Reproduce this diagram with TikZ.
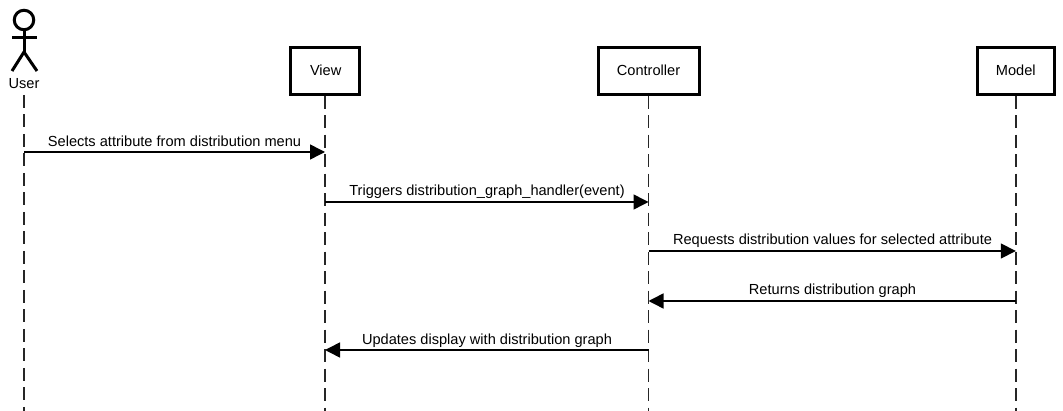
\documentclass[tikz,border=0pt]{standalone}
\usepackage{fontspec}
\setmainfont{Liberation Sans}
\usetikzlibrary{arrows.meta,calc}
\tikzset{
  x=1pt,y=-1pt,
  lbl/.style={font=\fontsize{14.6}{16}\selectfont,text=black,inner sep=0pt},
  box/.style={draw=black,line width=3pt,fill=white,minimum height=47pt,inner sep=0pt},
  lifeline/.style={draw=black!85,line width=1.5pt,dash pattern=on 13pt off 6.5pt},
  msg/.style={draw=black,line width=1.5pt,-{Triangle[length=15pt,width=15pt,fill=black]},shorten >=0pt},
  stick/.style={draw=black,line width=3pt},
  msglabel/.style={lbl,anchor=base}
}
\begin{document}
\begin{tikzpicture}
\useasboundingbox (0,0) rectangle (1063,411);
% actor
\node[circle,draw=black,line width=3pt,minimum size=19.5pt,inner sep=0pt] (head) at (24,20) {};
\coordinate (hip) at (24,52);
\coordinate (armL) at (12,38);
\coordinate (armR) at (37,38);
\coordinate (legL) at (12,71);
\coordinate (legR) at (37,71);
\draw[stick] (head.south) -- (hip);
\draw[stick] (armL) -- (armR);
\draw[stick] (legL) -- (hip) -- (legR);
\node[lbl] (user) at (24,84) {User};
% participants
\node[box,minimum width=69pt,lbl] (view) at (325,70.7) {\raisebox{-0.9pt}{\hspace{1.4pt}View}};
\node[box,minimum width=101pt,lbl] (controller) at (648.5,70.7) {\raisebox{-0.9pt}{Controller}};
\node[box,minimum width=77pt,lbl] (model) at (1015.8,70.7) {\raisebox{-0.9pt}{Model}};
% lifeline ends and anchors
\coordinate (userTop) at (24,95);
\coordinate (userEnd) at (24,411);
\coordinate (viewEnd) at (325,411);
\coordinate (controllerEnd) at (648.5,411);
\coordinate (modelEnd) at (1015.8,411);
\draw[lifeline] (userTop) -- (userEnd);
\draw[lifeline] (view.south) -- (viewEnd);
\draw[lifeline] (controller.south) -- (controllerEnd);
\draw[lifeline] (model.south) -- (modelEnd);
% messages
\coordinate (u1) at (24,152);  \coordinate (v1) at (325,152);
\coordinate (v2) at (325,202); \coordinate (c2) at (648.5,202);
\coordinate (c3) at (648.5,251); \coordinate (m3) at (1015.8,251);
\coordinate (m4) at (1015.8,301); \coordinate (c4) at (648.5,301);
\coordinate (c5) at (648.5,350); \coordinate (v5) at (325,350);
\draw[msg] (u1) -- (v1);
\draw[msg] (v2) -- (c2);
\draw[msg] (c3) -- (m3);
\draw[msg] (m4) -- (c4);
\draw[msg] (c5) -- (v5);
\node[msglabel] (t1) at (174.5,147) {Selects attribute from distribution menu};
\node[msglabel] (t2) at (487,196) {Triggers distribution\_graph\_handler(event)};
\node[msglabel] (t3) at (832.5,245) {Requests distribution values for selected attribute};
\node[msglabel] (t4) at (832.5,295) {Returns distribution graph};
\node[msglabel] (t5) at (487,345) {Updates display with distribution graph};
\end{tikzpicture}
\end{document}
